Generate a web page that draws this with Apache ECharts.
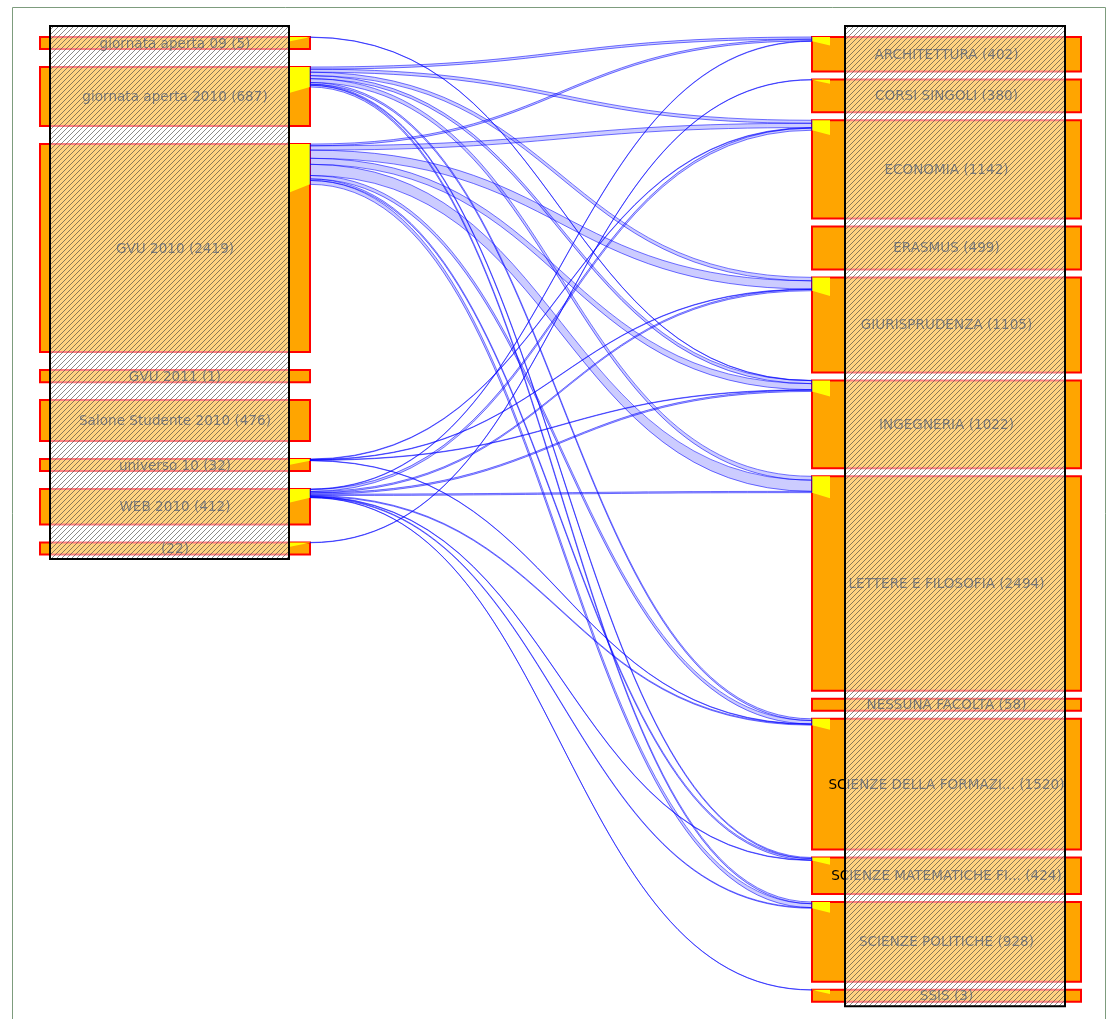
<!DOCTYPE html>
<html>
<head>
<meta charset="utf-8">
<script src="https://cdn.jsdelivr.net/npm/echarts@6/dist/echarts.min.js"></script>
<style>
html,body{margin:0;padding:0;background:#fff;}
#main{width:1107px;height:1019px;}
</style>
</head>
<body>
<div id="main"></div>
<script>
// sorgenti (colonna sinistra)
var leftNames = ['giornata aperta 09','giornata aperta 2010','GVU 2010','GVU 2011','Salone Studente 2010','universo 10','WEB 2010',''];
var leftValues = [5, 687, 2419, 1, 476, 32, 412, 22];

// facolta (colonna destra)
var rightNames = ['ARCHITETTURA','CORSI SINGOLI','ECONOMIA','ERASMUS','GIURISPRUDENZA','INGEGNERIA','LETTERE E FILOSOFIA','NESSUNA FACOLTA','SCIENZE DELLA FORMAZI...','SCIENZE MATEMATICHE FI...','SCIENZE POLITICHE','SSIS'];
var rightValues = [402, 380, 1142, 499, 1105, 1022, 2494, 58, 1520, 424, 928, 3];

// collegamenti sorgente -> facolta
var linkSource = [0, 1,1,1,1,1,1,1,1, 2,2,2,2,2,2,2,2, 5,5,5,5, 6,6,6,6,6,6,6,6,6, 7];
var linkTarget = [5, 0,2,4,5,6,8,9,10, 0,2,4,5,6,8,9,10, 2,4,5,8, 0,2,4,5,6,8,9,10,11, 1];
var linkValue  = [3, 25,35,40,35,45,20,12,20, 20,50,95,70,130,40,18,45, 6,5,5,4, 5,25,15,15,15,10,5,8,3, 4];

var K = 0.086;          // px per unita
var MIN_SIZE = 140;     // altezza minima di un nodo
var GAP_LEFT = 209, GAP_RIGHT = 93;
var PAD_TOP = 128, PAD_BOTTOM = 52;

function layout(values, gap){
	var pos = [], y = 0;
	for (var i = 0; i < values.length; i++){
		var h = Math.max(values[i], MIN_SIZE);
		pos.push({y0: y, y1: y + h});
		y += h + gap;
	}
	return pos;
}
var leftPos = layout(leftValues, GAP_LEFT);
var rightPos = layout(rightValues, GAP_RIGHT);
var yMax = rightPos[rightPos.length - 1].y1 + PAD_BOTTOM;

var links = [];
for (var i = 0; i < linkValue.length; i++){
	links.push({s: linkSource[i], t: linkTarget[i], v: linkValue[i]});
}
var srcStack = leftValues.map(function(){ return 0; });
var tgtStack = rightValues.map(function(){ return 0; });
links.slice().sort(function(a, b){ return a.s - b.s || a.t - b.t; }).forEach(function(l){
	l.sy = leftPos[l.s].y0 + srcStack[l.s];
	srcStack[l.s] += l.v;
});
links.slice().sort(function(a, b){ return a.t - b.t || a.s - b.s; }).forEach(function(l){
	l.ty = rightPos[l.t].y0 + tgtStack[l.t];
	tgtStack[l.t] += l.v;
});

// geometria delle colonne (unita asse x)
var COL = [
	{bar: [0, 270], box: [10, 249], flagOuter: 270, flagInner: 250, names: leftNames, values: leftValues, pos: leftPos, stack: srcStack},
	{bar: [772, 1041], box: [805, 1025], flagOuter: 772, flagInner: 790, names: rightNames, values: rightValues, pos: rightPos, stack: tgtStack}
];
var LINK_X0 = 270, LINK_X1 = 772;

function hatch(){
	var c = document.createElement('canvas');
	c.width = 5; c.height = 5;
	var g = c.getContext('2d');
	g.strokeStyle = 'rgba(60,60,60,0.85)';
	g.lineWidth = 1;
	g.beginPath();
	g.moveTo(0, 5); g.lineTo(5, 0);
	g.moveTo(-1, 1); g.lineTo(1, -1);
	g.moveTo(4, 6); g.lineTo(6, 4);
	g.stroke();
	return c;
}
var hatchImg = hatch();

var nodeData = [];
for (var c = 0; c < 2; c++){
	for (var j = 0; j < COL[c].values.length; j++) nodeData.push([c, j]);
}

function rectOf(api, x0, x1, y0, y1){
	var p0 = api.coord([x0, y0]), p1 = api.coord([x1, y1]);
	return {x: p0[0], y: p0[1], width: p1[0] - p0[0], height: p1[1] - p0[1]};
}

function renderNode(params, api){
	var col = COL[api.value(0)], j = api.value(1);
	var p = col.pos[j];
	var children = [];
	children.push({
		type: 'rect',
		shape: rectOf(api, col.bar[0], col.bar[1], p.y0, p.y1),
		style: {fill: '#FFA500', stroke: '#FF0000', lineWidth: 2}
	});
	var st = col.stack[j];
	if (st > 0){
		var a = api.coord([col.flagOuter, p.y0]);
		var b = api.coord([col.flagInner, p.y0]);
		var cc = api.coord([col.flagInner, p.y0 + st * 1.1 + 45]);
		var d = api.coord([col.flagOuter, p.y0 + st]);
		children.push({type: 'polygon', shape: {points: [a, b, cc, d]}, style: {fill: '#FFFF00'}});
	}
	var name = col.names[j];
	var label = name ? name + ' (' + col.values[j] + ')' : '(' + col.values[j] + ')';
	var ctr = api.coord([(col.bar[0] + col.bar[1]) / 2, (p.y0 + p.y1) / 2]);
	children.push({
		type: 'text',
		style: {text: label, x: ctr[0], y: ctr[1] + 1, align: 'center', verticalAlign: 'middle', fill: '#000', font: '13.6px "DejaVu Sans", Verdana, sans-serif'}
	});
	return {type: 'group', children: children};
}

function renderBox(params, api){
	var col = COL[api.value(0)];
	var last = col.pos[col.pos.length - 1];
	var r = rectOf(api, col.box[0], col.box[1], -PAD_TOP, last.y1 + PAD_BOTTOM);
	return {type: 'group', children: [
		{type: 'rect', shape: r, style: {fill: 'rgba(255,255,255,0.5)'}},
		{type: 'rect', shape: r, style: {fill: {image: hatchImg, repeat: 'repeat'}, opacity: 0.7}},
		{type: 'rect', shape: r, style: {fill: 'none', stroke: '#000', lineWidth: 2}}
	]};
}

function renderLink(params, api){
	var l = links[params.dataIndex];
	var cx = (LINK_X1 - LINK_X0) * 0.5;
	function pt(x, y){ var q = api.coord([x, y]); return q[0].toFixed(2) + ' ' + q[1].toFixed(2); }
	var d = 'M' + pt(LINK_X0, l.sy) +
		' C' + pt(LINK_X0 + cx, l.sy) + ' ' + pt(LINK_X1 - cx, l.ty) + ' ' + pt(LINK_X1, l.ty) +
		' L' + pt(LINK_X1, l.ty + l.v) +
		' C' + pt(LINK_X1 - cx, l.ty + l.v) + ' ' + pt(LINK_X0 + cx, l.sy + l.v) + ' ' + pt(LINK_X0, l.sy + l.v) + ' Z';
	return {
		type: 'path',
		shape: {pathData: d},
		style: {fill: 'rgba(0,0,255,0.2)', stroke: 'rgba(0,0,255,0.55)', lineWidth: 1}
	};
}

var myChart = echarts.init(document.getElementById('main'));
var option = {
	animation: false,
	grid: {left: 40, width: 1041, top: 26, height: (yMax + PAD_TOP) * K},
	xAxis: {type: 'value', min: 0, max: 1041, show: false},
	yAxis: {type: 'value', min: -PAD_TOP, max: yMax, inverse: true, show: false},
	graphic: [{
		type: 'rect', left: 10, top: 5, silent: true,
		shape: {width: 1093, height: 1013},
		style: {fill: 'none', stroke: '#7d9c7d', lineWidth: 1}
	}],
	series: [
		{type: 'custom', z: 1, silent: true, renderItem: renderNode, data: nodeData},
		{type: 'custom', z: 2, silent: true, renderItem: renderBox, data: [[0], [1]]},
		{type: 'custom', z: 3, silent: true, renderItem: renderLink, data: links.map(function(l){ return [l.s, l.t, l.v]; })}
	]
};
myChart.setOption(option);
</script>
</body>
</html>
